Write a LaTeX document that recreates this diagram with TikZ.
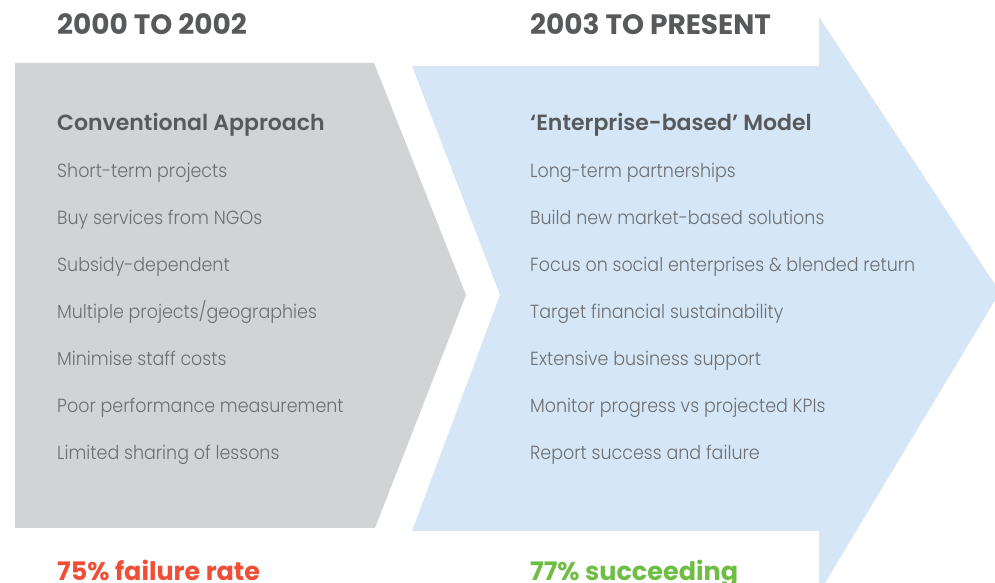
\documentclass[tikz,border=0pt]{standalone}
\usepackage{fontspec}
\setmainfont{Poppins}
\newfontfamily\lightface{Poppins Light}[FakeStretch=0.92]
\newfontfamily\semiface{Poppins SemiBold}
\usetikzlibrary{positioning}
\definecolor{greyfill}{HTML}{D1D3D4}
\definecolor{bluefill}{HTML}{D5E7F6}
\definecolor{headgrey}{HTML}{58595B}
\definecolor{textgrey}{HTML}{6D6E71}
\definecolor{failred}{HTML}{F04E37}
\definecolor{okgreen}{HTML}{6FBE44}
\tikzstyle{period} = [anchor=base west, inner sep=0pt, font=\bfseries\fontsize{28}{28}\selectfont, text=headgrey]
\tikzstyle{model} = [anchor=base west, inner sep=0pt, font=\semiface\fontsize{22}{22}\selectfont, text=headgrey]
\tikzstyle{item} = [anchor=base west, inner sep=0pt, font=\lightface\fontsize{19}{19}\selectfont, text=textgrey]
\tikzstyle{outcome} = [anchor=base west, inner sep=0pt, font=\bfseries\fontsize{25.5}{25.5}\selectfont]

\begin{document}
\begin{tikzpicture}[x=1pt, y=1pt, node distance=47pt]
\useasboundingbox (0,0) rectangle (995,583);
% the two chevrons
\fill [greyfill] (15,520) -- (374,520) -- (466,288) -- (375,55) -- (15,55) -- cycle;
\fill [bluefill] (412,517) -- (819,517) -- (819,566) -- (1000,291) -- (819,-10)
  -- (819,52) -- (412,52) -- (500,288) -- cycle;

% left column
\node (p1) [period] at (57,548) {2000 TO 2002};
\node (m1) [model] at (57,452) {Conventional Approach};
\node (a1) [item] at (57,405) {Short-term projects};
\node (a2) [item, below=of a1.base west, anchor=base west] {Buy services from NGOs};
\node (a3) [item, below=of a2.base west, anchor=base west] {Subsidy-dependent};
\node (a4) [item, below=of a3.base west, anchor=base west] {Multiple projects/geographies};
\node (a5) [item, below=of a4.base west, anchor=base west] {Minimise staff costs};
\node (a6) [item, below=of a5.base west, anchor=base west] {Poor performance measurement};
\node (a7) [item, below=of a6.base west, anchor=base west] {Limited sharing of lessons};
\node (r1) [outcome, text=failred] at (57,2) {75\% failure rate};

% right column
\node (p2) [period] at (530,548) {2003 TO PRESENT};
\node (m2) [model] at (530,452) {‘Enterprise-based’ Model};
\node (b1) [item] at (530,405) {Long-term partnerships};
\node (b2) [item, below=of b1.base west, anchor=base west] {Build new market-based solutions};
\node (b3) [item, below=of b2.base west, anchor=base west] {Focus on social enterprises \& blended return};
\node (b4) [item, below=of b3.base west, anchor=base west] {Target financial sustainability};
\node (b5) [item, below=of b4.base west, anchor=base west] {Extensive business support};
\node (b6) [item, below=of b5.base west, anchor=base west] {Monitor progress vs projected KPIs};
\node (b7) [item, below=of b6.base west, anchor=base west] {Report success and failure};
\node (r2) [outcome, text=okgreen] at (530,2) {77\% succeeding};
\end{tikzpicture}
\end{document}
